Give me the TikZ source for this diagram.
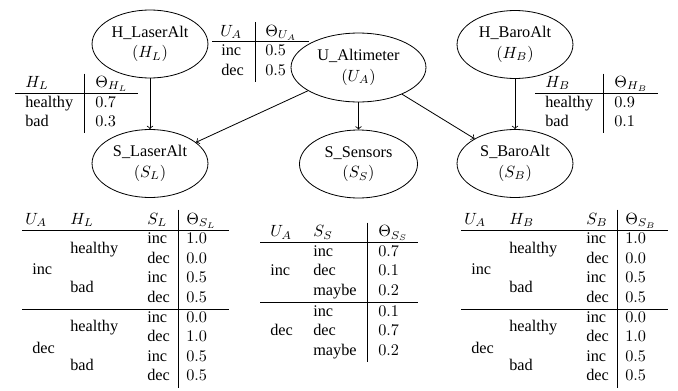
\documentclass[tikz,border=0pt]{standalone}
\usepackage[no-math]{fontspec}
\setmainfont{Liberation Serif}
\usetikzlibrary{shapes.geometric}
\newcommand\mycell[4]{\node[cell] (#1) at (#2,#3) {#4};}
\newcommand\cpttable[3]{%
  % #1 prefix, #2 left x, #3 subscript letter
  \mycell{#1hu}{#2+3}{224.2}{$U_A$}
  \mycell{#1hh}{#2+48}{224.2}{$H_#3$}
  \mycell{#1hs}{#2+125}{224.2}{$S_#3$}
  \mycell{#1ht}{#2+164}{224.2}{$\Theta_{S_#3}$}
  \draw[tabrule] (#2,230) -- (#2+207,230);
  \draw[tabrule] (#2,309) -- (#2+207,309);
  \draw[tabrule] (#2+156.5,209.5) -- (#2+156.5,388);
  \mycell{#1ui}{#2+10}{274}{inc}
  \mycell{#1ud}{#2+10}{353}{dec}
  \mycell{#1h1}{#2+48}{253.5}{healthy}
  \mycell{#1b1}{#2+48}{292.6}{bad}
  \mycell{#1h2}{#2+48}{331.8}{healthy}
  \mycell{#1b2}{#2+48}{370.9}{bad}
  \foreach \rw/\yy/\st/\vv in {1/243.7/inc/1.0, 2/263.25/dec/0.0, 3/282.8/inc/0.5, 4/302.35/dec/0.5,
                               5/322/inc/0.0, 6/341.6/dec/1.0, 7/361.1/inc/0.5, 8/380.7/dec/0.5}{
    \node[cell] (#1s\rw) at (#2+125,\yy) {\st};
    \node[cell] (#1v\rw) at (#2+164,\yy) {$\vv$};
  }
}
\begin{document}
\begin{tikzpicture}[x=0.615pt,y=-0.615pt,
  every node/.style={inner sep=0pt, font=\fontsize{10pt}{12pt}\selectfont},
  var/.style={ellipse, draw, line width=0.5pt, align=center,
              minimum width=71.3pt, minimum height=41.8pt},
  cell/.style={anchor=base west},
  tabrule/.style={line width=0.4pt},
  edge/.style={->, line width=0.5pt}]
\useasboundingbox (0,0) rectangle (678,391);

% variable nodes
\node[var] (HL) at (150,44) {H\_LaserAlt\\[0.7pt]$(H_L)$};
\node[var, minimum width=83pt, minimum height=42.4pt] (UA) at (358.5,67.5) {U\_Altimeter\\[0.7pt]$(U_A)$};
\node[var] (HB) at (515,44.5) {H\_BaroAlt\\[0.7pt]$(H_B)$};
\node[var] (SL) at (150,163.5) {S\_LaserAlt\\[0.7pt]$(S_L)$};
\node[var, minimum width=72.6pt] (SS) at (358.5,164) {S\_Sensors\\[0.7pt]$(S_S)$};
\node[var] (SB) at (515,163.5) {S\_BaroAlt\\[0.7pt]$(S_B)$};

% edges
\draw[edge] (HL) -- (SL);
\draw[edge] (UA) -- (SL);
\draw[edge] (UA) -- (SS);
\draw[edge] (UA) -- (SB);
\draw[edge] (HB) -- (SB);

% table U_A
\draw[tabrule] (212,41.8) -- (309,41.8);
\draw[tabrule] (255,22.3) -- (255,81.5);
\mycell{uah}{220}{36}{$U_A$}
\mycell{uat}{265}{36}{$\Theta_{U_A}$}
\mycell{uai}{221}{55.8}{inc}
\mycell{uad}{221}{75.3}{dec}
\mycell{uav1}{265}{55.8}{$0.5$}
\mycell{uav2}{265}{75.3}{$0.5$}

% table H_L
\draw[tabrule] (15,93) -- (138,93);
\draw[tabrule] (84,73.5) -- (84,132.5);
\mycell{hlh}{25}{87.3}{$H_L$}
\mycell{hlt}{95}{87.3}{$\Theta_{H_L}$}
\mycell{hlg}{25}{107}{healthy}
\mycell{hlb}{25}{126.5}{bad}
\mycell{hlv1}{95}{107}{$0.7$}
\mycell{hlv2}{95}{126.5}{$0.3$}

% table H_B
\draw[tabrule] (535,93) -- (658,93);
\draw[tabrule] (603,73.5) -- (603,132.5);
\mycell{hbh}{545}{87.3}{$H_B$}
\mycell{hbt}{614}{87.3}{$\Theta_{H_B}$}
\mycell{hbg}{545}{107}{healthy}
\mycell{hbb}{545}{126.5}{bad}
\mycell{hbv1}{614}{107}{$0.9$}
\mycell{hbv2}{614}{126.5}{$0.1$}

% table S_S
\draw[tabrule] (260,242.8) -- (418,242.8);
\draw[tabrule] (260,302) -- (418,302);
\draw[tabrule] (367.7,222.5) -- (367.7,361.5);
\mycell{ssh1}{270}{236.8}{$U_A$}
\mycell{ssh2}{313}{236.8}{$S_S$}
\mycell{ssh3}{378}{236.8}{$\Theta_{S_S}$}
\mycell{ssu1}{270}{275.8}{inc}
\mycell{ssu2}{270}{335.5}{dec}
\foreach \rw/\yy/\st/\vv in {1/256.3/inc/0.7, 2/275.8/dec/0.1, 3/295.3/maybe/0.2,
                             4/316/inc/0.1, 5/335.5/dec/0.7, 6/355/maybe/0.2}{
  \node[cell] (sss\rw) at (313,\yy) {\st};
  \node[cell] (ssv\rw) at (378,\yy) {$\vv$};
}

% tables S_L and S_B
\cpttable{sl}{22}{L}
\cpttable{sb}{461}{B}
\end{tikzpicture}
\end{document}
